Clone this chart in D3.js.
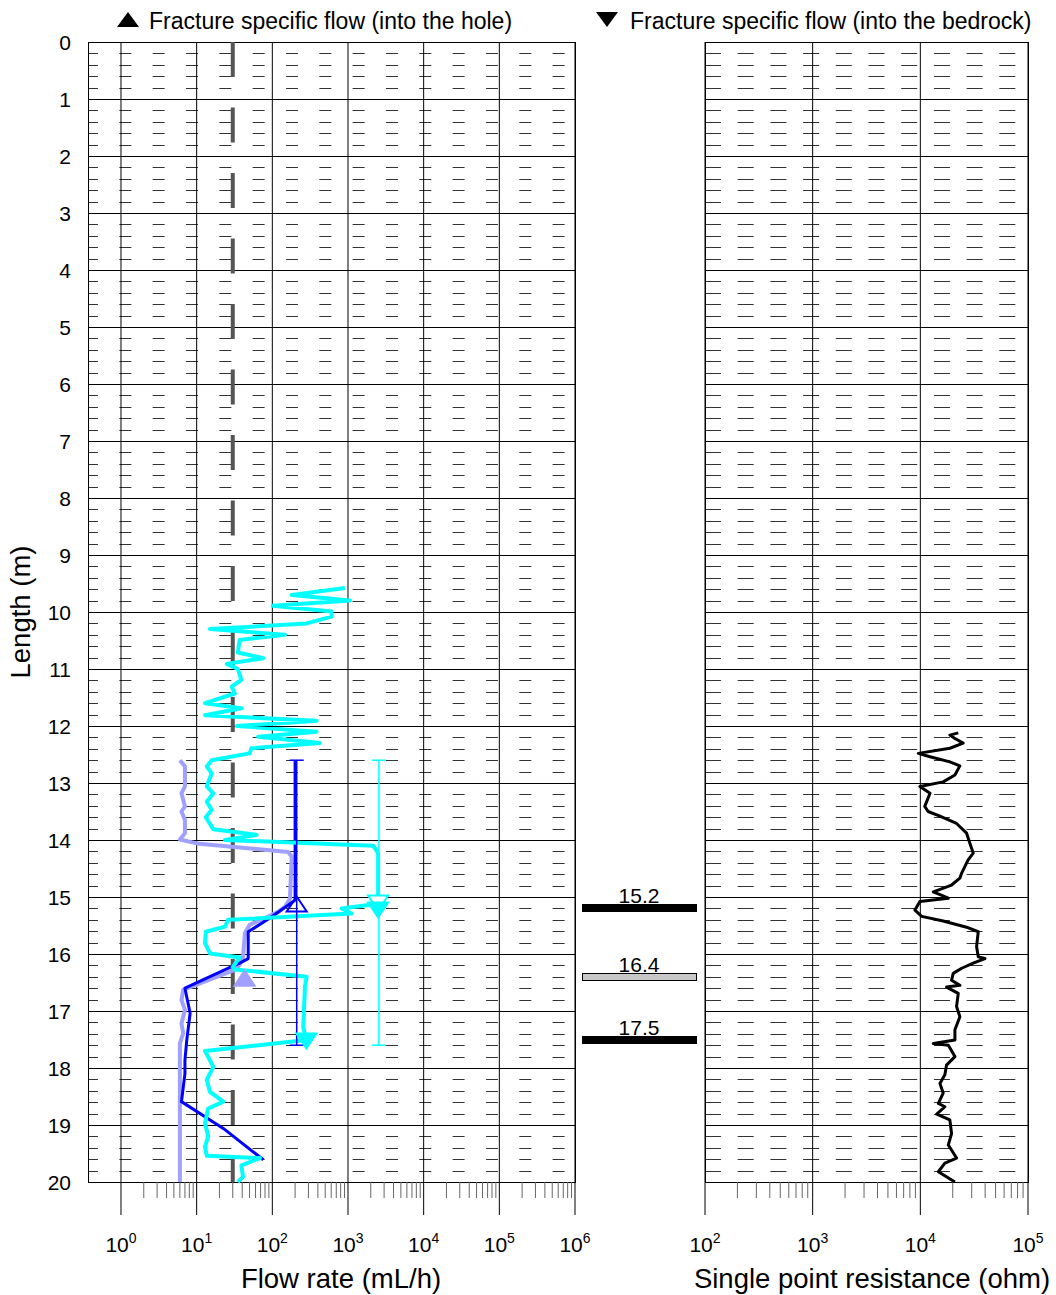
<!DOCTYPE html>
<html lang="en">
<head>
<meta charset="UTF-8">
<title>Flow rate and single point resistance</title>
<script src="https://d3js.org/d3.v7.min.js"></script>
<style>
  body { margin: 0; padding: 0; background: #fff; }
  svg { display: block; font-family: Arial, "Liberation Sans", sans-serif; }
  .tick-label { font-size: 21px; fill: #000; }
  .axis-title { font-size: 27.5px; fill: #000; }
  .legend { font-size: 23px; fill: #000; }
</style>
</head>
<body>
<svg id="chart" width="1056" height="1295"></svg>
<script>
// ---- data (depth in m, flow in mL/h, resistance in ohm) ----
const flowDecades = [0, 1, 2, 3, 4, 5, 6];
const resDecades = [2, 3, 4, 5];
const lowerLimit = 30;

const cyanFlow = [
  [9.58, 910], [9.70, 180], [9.80, 1060], [9.89, 101], [9.99, 607], [10.08, 607],
  [10.20, 284], [10.30, 15], [10.40, 147], [10.49, 37], [10.71, 35], [10.81, 76],
  [10.91, 25], [11.0, 35], [11.19, 39], [11.31, 29], [11.43, 32], [11.60, 12.9],
  [11.69, 39], [11.81, 12.9], [11.91, 385], [12.0, 34], [12.10, 385], [12.19, 65],
  [12.30, 425], [12.39, 53], [12.48, 50], [12.60, 15.8], [12.71, 13.6], [12.83, 15.8],
  [13.06, 13.6], [13.18, 16.6], [13.33, 13.6], [13.47, 15.8], [13.60, 13.2], [13.81, 16.6],
  [13.91, 62], [14.0, 23.7], [14.1, 2150], [14.23, 2500], [15.12, 2500], [15.2, 823],
  [15.29, 1115], [15.4, 26], [15.52, 23.7], [15.61, 13.2], [15.81, 12.9], [15.99, 15],
  [16.06, 37], [16.23, 30], [16.27, 32], [16.4, 284], [16.57, 270], [17.28, 256],
  [17.51, 284], [17.7, 12.9], [17.98, 16.6], [18.21, 13.6], [18.42, 15], [18.59, 22.5],
  [18.71, 14.2], [18.97, 12.9], [19.2, 14.2], [19.38, 12.9], [19.54, 13.6], [19.58, 68.6],
  [19.71, 39], [19.91, 41], [20.0, 35]
];

const lavenderFlow = [
  [12.6, 6.0], [12.71, 7.0], [13.06, 7.0], [13.18, 6.3], [13.41, 7.0], [13.5, 6.3],
  [13.65, 7.0], [13.88, 7.0], [13.99, 6.0], [14.06, 10], [14.21, 162], [14.29, 180],
  [15.03, 171], [15.17, 147], [15.26, 120], [15.49, 50], [15.63, 43.5], [16.05, 41],
  [16.19, 37], [16.27, 33], [16.63, 6.65], [16.81, 6.3], [16.98, 7.0], [17.22, 6.3],
  [17.39, 6.65], [17.57, 6.0], [20.0, 6.0]
];

const blueFlow = [
  [12.6, 200], [15.05, 200], [15.08, 189], [15.37, 93], [15.61, 48], [16.08, 48],
  [16.16, 37], [16.22, 29], [16.6, 7.0], [17.04, 8.2], [17.51, 7.4], [17.86, 7.0],
  [18.1, 7.0], [18.59, 6.3], [19.06, 22.5], [19.61, 76]
];

// vertical range bars: [value, from, to, colour]
const rangeBars = [
  [210, 12.6, 17.6, "#0000ff"],
  [2560, 12.6, 17.6, "#00ffff"]
];

// fracture flow markers: [depth, value, direction, fill, stroke]
const markers = [
  [15.15, 210, "up", "none", "#0000ff"],
  [16.45, 43, "up", "#a0a0ff", "#a0a0ff"],
  [15.08, 2500, "down", "#ffffff", "#00ffff"],
  [15.2, 2500, "down", "#00ffff", "#00ffff"],
  [17.5, 282, "down", "#00ffff", "#00ffff"]
];

const fractures = [15.2, 16.4, 17.5];
const fractureFill = ["#000000", "#c8c8c8", "#000000"];

const resistance = [
  [12.12, 22500], [12.16, 18800], [12.22, 20950], [12.30, 25000], [12.39, 18800], [12.48, 9570],
  [12.54, 12300], [12.63, 18800], [12.70, 23300], [12.86, 20950], [12.98, 16300], [13.06, 9910],
  [13.18, 12300], [13.41, 11000], [13.50, 11800], [13.58, 15200], [13.71, 21700], [13.88, 26900],
  [14.06, 28900], [14.23, 31000], [14.35, 27800], [14.58, 24200], [14.67, 23300], [14.79, 19500],
  [14.91, 13200], [15.02, 18200], [15.08, 9910], [15.23, 8910], [15.34, 10300], [15.42, 16300],
  [15.53, 26900], [15.61, 34500], [15.87, 33300], [16.05, 34500], [16.08, 39800], [16.16, 31000],
  [16.25, 24200], [16.34, 20200], [16.46, 19500], [16.55, 23300], [16.58, 17500], [16.69, 22500],
  [16.92, 21700], [17.10, 23300], [17.33, 20950], [17.51, 20950], [17.57, 13200], [17.60, 18200],
  [17.80, 20950], [17.95, 17500], [18.12, 16900], [18.27, 15200], [18.44, 16300], [18.62, 14700],
  [18.68, 16900], [18.81, 14200], [18.91, 18800], [19.15, 19500], [19.35, 18200], [19.58, 21700],
  [19.67, 16900], [19.82, 14700], [20.0, 20950]
];

// ---- layout ----
const yTop = 42, yBottom = 1182;
const svg = d3.select("#chart");

const y = d3.scaleLinear().domain([0, 20]).range([yTop, yBottom]);
const yc = d => Math.round(y(d)) + 0.5;   // crisp 1px grid rows
const xFlow = d3.scaleLog().domain([Math.pow(10, -0.436), 1e6]).range([88, 575]);
const xRes = d3.scaleLog().domain([1e2, 1e5]).range([705, 1028]);

function panel(x, decades, dash) {
  const [x0, x1] = x.range();
  const g = svg.append("g");

  // minor dashed grid every 0.2 m
  const minor = d3.range(0, 20, 0.2).filter(d => Math.abs(d - Math.round(d)) > 0.01);
  g.selectAll(".minor").data(minor).enter().append("line")
    .attr("x1", x0).attr("x2", x1)
    .attr("y1", yc).attr("y2", yc)
    .attr("stroke", "#333").attr("stroke-width", 1.2)
    .attr("stroke-dasharray", dash.pattern)
    .attr("stroke-dashoffset", dash.offset);

  // major horizontal lines
  g.selectAll(".major").data(d3.range(0, 21)).enter().append("line")
    .attr("x1", x0).attr("x2", x1)
    .attr("y1", yc).attr("y2", yc)
    .attr("stroke", "#000").attr("stroke-width", 1);

  // vertical decade lines
  g.selectAll(".vline").data(decades).enter().append("line")
    .attr("x1", d => x(Math.pow(10, d))).attr("x2", d => x(Math.pow(10, d)))
    .attr("y1", yTop).attr("y2", yBottom + 33)
    .attr("stroke", "#000").attr("stroke-width", 1);

  // frame
  g.append("rect").attr("x", x0 + 0.5).attr("y", yTop + 0.5)
    .attr("width", x1 - x0).attr("height", yBottom - yTop)
    .attr("fill", "none").attr("stroke", "#000").attr("stroke-width", 1);

  // minor log ticks along the bottom
  const minorTicks = [];
  decades.slice(0, -1).forEach(d => {
    for (let k = 2; k <= 9; k++) minorTicks.push(k * Math.pow(10, d));
  });
  g.selectAll(".mtick").data(minorTicks).enter().append("line")
    .attr("x1", d => x(d)).attr("x2", d => x(d))
    .attr("y1", yBottom).attr("y2", yBottom + 16)
    .attr("stroke", "#666").attr("stroke-width", 1);

  // decade labels 10^n
  const lab = g.selectAll(".xlab").data(decades).enter().append("text")
    .attr("class", "tick-label")
    .attr("x", d => x(Math.pow(10, d)))
    .attr("y", 1252)
    .attr("text-anchor", "middle");
  lab.append("tspan").text("10");
  lab.append("tspan").attr("dy", -9).attr("font-size", 14).text(d => d);
  return g;
}

panel(xFlow, flowDecades, { offset: 2, pattern: "12 21.33" });
panel(xRes, resDecades, { offset: 0, pattern: "16 16.7" });

// depth labels
svg.selectAll(".ylab").data(d3.range(0, 21)).enter().append("text")
  .attr("class", "tick-label")
  .attr("x", 71).attr("y", d => y(d)).attr("dy", "0.36em")
  .attr("text-anchor", "end")
  .text(d => d);

// lower measurement limit
svg.append("line")
  .attr("x1", xFlow(lowerLimit)).attr("x2", xFlow(lowerLimit))
  .attr("y1", yTop).attr("y2", yBottom)
  .attr("stroke", "#555").attr("stroke-width", 4)
  .attr("stroke-dasharray", "35 30.5");

// flow curves
const flowLine = d3.line().x(d => xFlow(d[1])).y(d => y(d[0]));
svg.append("path").datum(lavenderFlow).attr("d", flowLine)
  .attr("fill", "none").attr("stroke", "#a0a0ff").attr("stroke-width", 4).attr("stroke-linejoin", "round");
svg.append("path").datum(blueFlow).attr("d", flowLine)
  .attr("fill", "none").attr("stroke", "#0000ff").attr("stroke-width", 3).attr("stroke-linejoin", "round");
svg.append("path").datum(cyanFlow).attr("d", flowLine)
  .attr("fill", "none").attr("stroke", "#00ffff").attr("stroke-width", 4).attr("stroke-linejoin", "round");

// range bars with caps
rangeBars.forEach(([v, d0, d1, c]) => {
  const g = svg.append("g").attr("stroke", c).attr("stroke-width", 1.5);
  g.append("line").attr("x1", xFlow(v)).attr("x2", xFlow(v)).attr("y1", y(d0)).attr("y2", y(d1));
  [d0, d1].forEach(d => g.append("line")
    .attr("x1", xFlow(v) - 7).attr("x2", xFlow(v) + 7).attr("y1", y(d)).attr("y2", y(d)));
});

// triangle markers
const tri = dir => dir === "up" ? "M0,-9L10,6L-10,6Z" : "M0,9L10,-6L-10,-6Z";
svg.selectAll(".marker").data(markers).enter().append("path")
  .attr("transform", d => `translate(${xFlow(d[1])},${y(d[0])})`)
  .attr("d", d => tri(d[2]))
  .attr("fill", d => d[3]).attr("stroke", d => d[4]).attr("stroke-width", 2);

// fracture bars in the middle column
svg.selectAll(".frac").data(fractures).enter().append("rect")
  .attr("x", 582.5).attr("y", d => Math.round(y(d)) - 3.5)
  .attr("width", 114).attr("height", 7)
  .attr("fill", (d, i) => fractureFill[i])
  .attr("stroke", "#000").attr("stroke-width", 1);
svg.selectAll(".fraclab").data(fractures).enter().append("text")
  .attr("class", "tick-label")
  .attr("x", 639).attr("y", d => y(d) - 5)
  .attr("text-anchor", "middle")
  .text(d => d.toFixed(1));

// resistance curve
svg.append("path").datum(resistance)
  .attr("d", d3.line().x(d => xRes(d[1])).y(d => y(d[0])))
  .attr("fill", "none").attr("stroke", "#000").attr("stroke-width", 3).attr("stroke-linejoin", "round");

// titles
svg.append("text").attr("class", "axis-title")
  .attr("transform", "translate(30,612) rotate(-90)")
  .attr("text-anchor", "middle").text("Length (m)");
svg.append("text").attr("class", "axis-title")
  .attr("x", 341).attr("y", 1288).attr("text-anchor", "middle").text("Flow rate (mL/h)");
svg.append("text").attr("class", "axis-title")
  .attr("x", 872).attr("y", 1288).attr("text-anchor", "middle")
  .attr("font-size", 28).text("Single point resistance (ohm)");

// legend
svg.append("path").attr("d", "M128,12L139,27L117,27Z").attr("fill", "#000");
svg.append("text").attr("class", "legend").attr("x", 149).attr("y", 29).text("Fracture specific flow (into the hole)");
svg.append("path").attr("d", "M607,27L618,12L596,12Z").attr("fill", "#000");
svg.append("text").attr("class", "legend").attr("x", 630).attr("y", 29).text("Fracture specific flow (into the bedrock)");
</script>
</body>
</html>
